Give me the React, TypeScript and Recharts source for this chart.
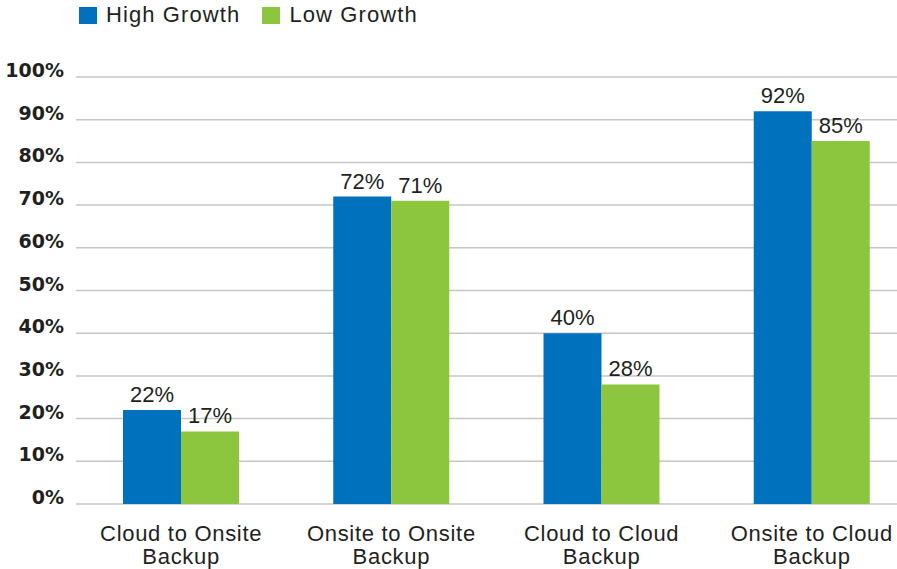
import React from 'react'

import { BarChart, Bar, XAxis, YAxis, CartesianGrid, LabelList } from 'recharts'

const categories = ['Cloud to Onsite\nBackup', 'Onsite to Onsite\nBackup', 'Cloud to Cloud\nBackup', 'Onsite to Cloud\nBackup']
const highGrowth = [22, 72, 40, 92]
const lowGrowth = [17, 71, 28, 85]
const yTicks = [0, 10, 20, 30, 40, 50, 60, 70, 80, 90, 100]

const data = categories.map((name, i) => ({
  name,
  high: highGrowth[i],
  low: lowGrowth[i]
}))

const TEXT = '#231f20'
const BLUE = '#0071bc'
const GREEN = '#8cc63f'

const YTick = ({ x, y, payload }: any) => (
  <text x={x} y={y} textAnchor="end" fill={TEXT} fontSize={19} fontWeight="bold" fontFamily="DejaVu Sans">
    {payload.value}%
  </text>
)

const XTick = ({ x, y, payload }: any) => {
  const lines = String(payload.value).split('\n')
  return (
    <text x={x} y={y} textAnchor="middle" fill={TEXT} fontSize={22} letterSpacing={0.7}>
      {lines.map((line, i) => (
        <tspan key={i} x={x} dy={i === 0 ? 29 : 23}>{line}</tspan>
      ))}
    </text>
  )
}

// legend sits above the plot, outside the chart's own layout
const LegendBlock = () => (
  <div style={{ position: 'absolute', left: 79, top: 2, display: 'flex', alignItems: 'center', fontSize: 22, color: TEXT, letterSpacing: 1.1, lineHeight: '26px' }}>
    <span style={{ width: 18, height: 17, background: BLUE, display: 'inline-block', marginRight: 9 }} />
    <span style={{ marginRight: 22 }}>High Growth</span>
    <span style={{ width: 18, height: 17, background: GREEN, display: 'inline-block', marginRight: 9 }} />
    <span>Low Growth</span>
  </div>
)

export default function App() {
  return (
    <div style={{ position: 'absolute', left: 0, top: 0, width: 897, height: 569, overflow: 'hidden', fontFamily: '"Liberation Sans", Arial, sans-serif' }}>
      <LegendBlock />
      <BarChart
        width={920}
        height={569}
        data={data}
        margin={{ top: 77, right: 3, left: 0, bottom: 0 }}
        barGap={0}
      >
        <CartesianGrid vertical={false} stroke="#c6c6c6" strokeWidth={1.5} />
        <XAxis dataKey="name" height={65} axisLine={false} tickLine={false} tick={<XTick />} interval={0} />
        <YAxis
          domain={[0, 100]}
          ticks={yTicks}
          width={76}
          axisLine={false}
          tickLine={false}
          tickSize={0}
          tickMargin={12}
          tick={<YTick />}
        />
        <Bar dataKey="high" name="High Growth" fill={BLUE} barSize={58} isAnimationActive={false}>
          <LabelList dataKey="high" position="top" offset={8} formatter={(v: any) => `${v}%`} fill={TEXT} fontSize={22} />
        </Bar>
        <Bar dataKey="low" name="Low Growth" fill={GREEN} barSize={58} isAnimationActive={false}>
          <LabelList dataKey="low" position="top" offset={8} formatter={(v: any) => `${v}%`} fill={TEXT} fontSize={22} />
        </Bar>
      </BarChart>
    </div>
  )
}
